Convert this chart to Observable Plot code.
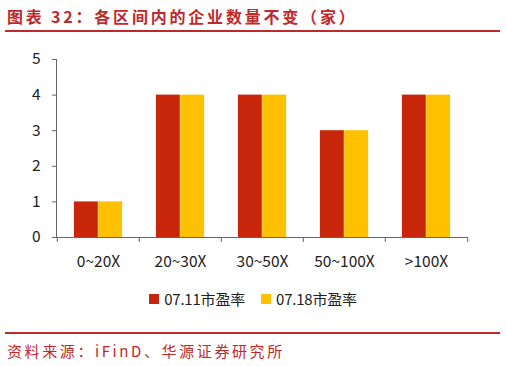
<!DOCTYPE html>
<html><head><meta charset="utf-8">
<script src="https://cdn.jsdelivr.net/npm/d3@7"></script>
<script src="https://cdn.jsdelivr.net/npm/@observablehq/plot@0.6"></script>
<style>
body{margin:0;width:506px;height:366px;position:relative;background:#fff;font-family:"Noto Sans CJK SC","Noto Sans",sans-serif;overflow:hidden}
#title{position:absolute;left:7px;top:4px;font-size:16px;font-weight:bold;color:#c0282a;letter-spacing:2.8px;white-space:nowrap}
.hline{position:absolute;left:5px;width:495px;height:2px;background:#c0282a}
#chart{position:absolute;left:0;top:40px}
#legend{position:absolute;left:0;width:506px;top:288px;display:flex;justify-content:center;gap:16px;font-size:15px;color:#222;letter-spacing:-0.2px}
#legend .it{display:flex;align-items:center;gap:5px}
#legend .sw{width:10px;height:10px;display:inline-block}
#source{position:absolute;left:7px;top:340px;font-size:15px;color:#c0282a;letter-spacing:2.6px;white-space:nowrap}
</style></head>
<body>
<div id="title">图表 32：各区间内的企业数量不变（家）</div>
<div class="hline" style="top:30px"></div>
<div id="chart"></div>
<div id="legend"></div>
<div class="hline" style="top:332px"></div>
<div id="source">资料来源：iFinD、华源证券研究所</div>
<script>
const categories = ["0~20X", "20~30X", "30~50X", "50~100X", ">100X"];
const seriesNames = ["07.11市盈率", "07.18市盈率"];
const values0711 = [1, 4, 4, 3, 4];
const values0718 = [1, 4, 4, 3, 4];
const yTicks = [0, 1, 2, 3, 4, 5];
const colors = ["#c8260a", "#ffc000"];

const W = 506, H = 250, mL = 56, mR = 38, mT = 19, mB = 53;
const bw = (W - mL - mR) / categories.length;
const barW = 24.3;
const outer = (bw - 2 * barW) / 2;

const d0 = categories.map((c, i) => ({cat: c, v: values0711[i]}));
const d1 = categories.map((c, i) => ({cat: c, v: values0718[i]}));

const plot = Plot.plot({
  width: W, height: H,
  marginLeft: mL, marginRight: mR, marginTop: mT, marginBottom: mB,
  style: {fontFamily: '"Noto Sans CJK SC","Noto Sans",sans-serif', fontSize: "15px", color: "#222", background: "transparent"},
  x: {domain: categories, padding: 0, label: null},
  y: {domain: [0, 5], label: null},
  marks: [
    Plot.barY(d0, {x: "cat", y: "v", fill: colors[0], insetLeft: outer, insetRight: outer + barW}),
    Plot.barY(d1, {x: "cat", y: "v", fill: colors[1], insetLeft: outer + barW, insetRight: outer}),
    Plot.frame({anchor: "left", stroke: "#666"}),
    Plot.ruleY([0], {stroke: "#666"}),
    Plot.ruleX(categories, {x: d => d, dx: -bw / 2, stroke: "#666", insetTop: H - mT - mB, insetBottom: -5}),
    Plot.ruleX([categories[categories.length - 1]], {x: d => d, dx: bw / 2, stroke: "#666", insetTop: H - mT - mB, insetBottom: -5}),
    Plot.axisY({ticks: yTicks, tickSize: 4, tickPadding: 12, stroke: "#666", tickFormat: d => String(d), fontSize: 15.5, fill: "#222"}),
    Plot.axisX({tickSize: 0, tickPadding: 18, fontSize: 15.5, fill: "#222", label: null})
  ]
});
document.getElementById("chart").appendChild(plot);

const lg = document.getElementById("legend");
seriesNames.forEach((n, i) => {
  const it = document.createElement("span");
  it.className = "it";
  const sw = document.createElement("span");
  sw.className = "sw";
  sw.style.background = colors[i];
  const tx = document.createElement("span");
  tx.textContent = n;
  it.appendChild(sw); it.appendChild(tx);
  lg.appendChild(it);
});
</script>
</body></html>
